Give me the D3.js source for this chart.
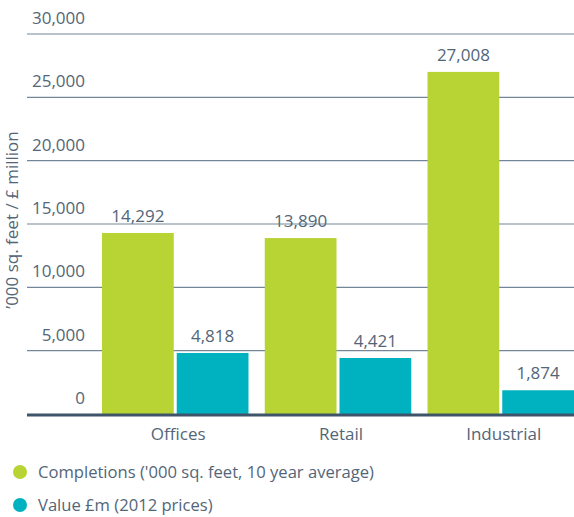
<!DOCTYPE html>
<html>
<head>
<meta charset="utf-8">
<script src="https://cdn.jsdelivr.net/npm/d3@7"></script>
<style>
  body { margin: 0; background: #fff; }
  svg text { font-family: "Open Sans", "Noto Sans", sans-serif; font-weight: 400; fill: #536678; }
</style>
</head>
<body>
<div id="chart"></div>
<script>
// data
const categories = ['Offices', 'Retail', 'Industrial'];
const seriesNames = ['Completions (\'000 sq. feet, 10 year average)', 'Value £m (2012 prices)'];
const completions = [14292, 13890, 27008];
const valueMillions = [4818, 4421, 1874];
const yTicks = [0, 5000, 10000, 15000, 20000, 25000, 30000];
const colors = ['#b7d334', '#00b2c0'];

const width = 574, height = 517;

const svg = d3.select('#chart').append('svg')
  .attr('width', width)
  .attr('height', height);

const y = d3.scaleLinear().domain([0, 30000]).range([414, 34]);

const x0 = d3.scaleBand()
  .domain(categories)
  .range([102, 574])
  .paddingInner(0.1)
  .paddingOuter(0);

const x1 = d3.scaleBand()
  .domain([0, 1])
  .range([0, x0.bandwidth()])
  .paddingInner(0.04);

let fmt = d3.format(',');

// gridlines
svg.append('g').selectAll('line')
  .data(yTicks.filter(d => d > 0))
  .join('line')
  .attr('x1', 27).attr('x2', width)
  .attr('y1', d => y(d)).attr('y2', d => y(d))
  .attr('stroke', '#74879a')
  .attr('stroke-width', 1.1);

// tick labels sit above the lines
svg.append('g').selectAll('text')
  .data(yTicks)
  .join('text')
  .attr('x', 85)
  .attr('y', d => y(d) - 10)
  .attr('text-anchor', 'end')
  .style('font-size', '17px')
  .text(d => fmt(d));

let rows = categories.map((c, i) => ({ cat: c, vals: [completions[i], valueMillions[i]] }));

let groups = svg.append('g').selectAll('g')
  .data(rows)
  .join('g')
  .attr('transform', d => 'translate(' + x0(d.cat) + ',0)');

groups.selectAll('rect')
  .data(d => d.vals.map((v, k) => ({ k: k, v: v })))
  .join('rect')
  .attr('x', d => x1(d.k))
  .attr('width', x1.bandwidth())
  .attr('y', d => y(d.v))
  .attr('height', d => y(0) - y(d.v))
  .attr('fill', d => colors[d.k]);

groups.selectAll('text.val')
  .data(d => d.vals.map((v, k) => ({ k: k, v: v })))
  .join('text')
  .attr('class', 'val')
  .attr('x', d => x1(d.k) + x1.bandwidth() / 2)
  .attr('y', d => y(d.v) - 11)
  .attr('text-anchor', 'middle')
  .style('font-size', '17px')
  .text(d => fmt(d.v));

// baseline
svg.append('line')
  .attr('x1', 27).attr('x2', width)
  .attr('y1', y(0) + 1).attr('y2', y(0) + 1)
  .attr('stroke', '#3e5468')
  .attr('stroke-width', 3);

// category labels
svg.append('g').selectAll('text')
  .data(categories)
  .join('text')
  .attr('x', d => x0(d) + x0.bandwidth() / 2 + 3)
  .attr('y', 440)
  .attr('text-anchor', 'middle')
  .style('font-size', '17px')
  .text(d => d);

// y axis title
svg.append('text')
  .attr('transform', 'translate(18,220) rotate(-90)')
  .attr('text-anchor', 'middle')
  .style('font-size', '17px')
  .text('\u2019000 sq. feet / \u00a3 million');

// legend
let legend = svg.append('g').selectAll('g')
  .data(seriesNames)
  .join('g')
  .attr('transform', (d, i) => 'translate(0,' + (472 + i * 33) + ')');

legend.append('circle')
  .attr('cx', 20).attr('cy', 0).attr('r', 7)
  .attr('fill', (d, i) => colors[i]);

legend.append('text')
  .attr('x', 38).attr('y', 6)
  .style('font-size', '16.6px')
  .text(d => d);
</script>
</body>
</html>
